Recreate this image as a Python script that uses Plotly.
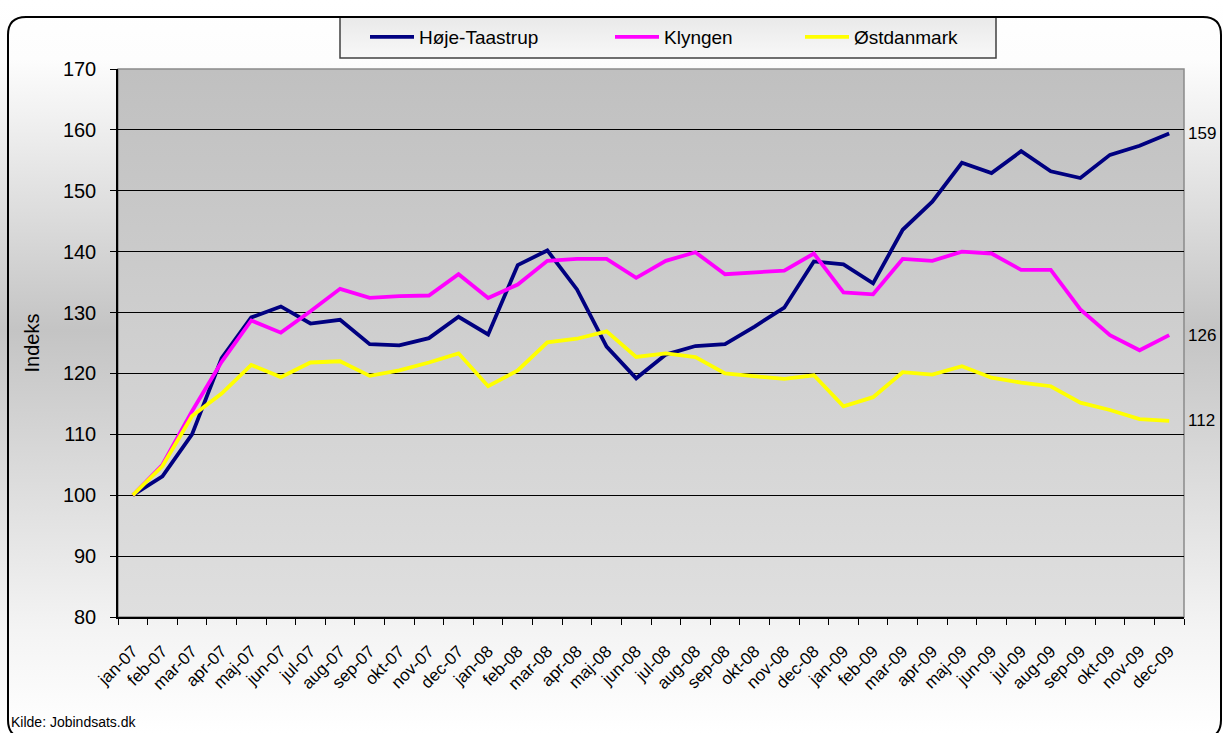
import base64
import plotly.graph_objects as go

months = ["jan-07", "feb-07", "mar-07", "apr-07", "maj-07", "jun-07", "jul-07", "aug-07", "sep-07",
          "okt-07", "nov-07", "dec-07", "jan-08", "feb-08", "mar-08", "apr-08", "maj-08", "jun-08",
          "jul-08", "aug-08", "sep-08", "okt-08", "nov-08", "dec-08", "jan-09", "feb-09", "mar-09",
          "apr-09", "maj-09", "jun-09", "jul-09", "aug-09", "sep-09", "okt-09", "nov-09", "dec-09"]

hoeje_taastrup = [100, 103.1, 110, 122.5, 129.2, 131.0, 128.2, 128.8, 124.8, 124.6, 125.8, 129.3,
                  126.4, 137.8, 140.2, 133.8, 124.4, 119.2, 123.1, 124.5, 124.8, 127.7, 130.8, 138.4,
                  137.9, 134.8, 143.6, 148.2, 154.6, 152.9, 156.5, 153.2, 152.1, 155.9, 157.4, 159.4]

klyngen = [100, 105.0, 113.8, 121.9, 128.7, 126.7, 130.2, 133.9, 132.4, 132.7, 132.8, 136.3,
           132.4, 134.6, 138.5, 138.8, 138.8, 135.7, 138.5, 139.9, 136.3, 136.6, 136.9, 139.7,
           133.3, 133.0, 138.8, 138.5, 140.0, 139.7, 137.0, 137.0, 130.5, 126.3, 123.8, 126.3]

oestdanmark = [100, 104.8, 113.0, 116.7, 121.4, 119.4, 121.8, 122.0, 119.6, 120.5, 121.8, 123.3,
               117.9, 120.5, 125.1, 125.7, 126.9, 122.7, 123.3, 122.7, 120.0, 119.6, 119.1, 119.7,
               114.6, 116.1, 120.2, 119.8, 121.2, 119.3, 118.5, 117.9, 115.2, 114.0, 112.5, 112.2]

series_names = ["Høje-Taastrup", "Klyngen", "Østdanmark"]
series_values = [hoeje_taastrup, klyngen, oestdanmark]
end_labels = ["159", "126", "112"]
y_ticks = [80, 90, 100, 110, 120, 130, 140, 150, 160, 170]

colors = ["#000080", "#FF00FF", "#FFFF00"]

W, H = 1223, 733
L, R, T, B = 118, 1184, 69, 617


def px(x):
    return (x - L) / (R - L)


def py(y):
    return (B - y) / (B - T)


def svg_uri(stops):
    st = "".join(f'<stop offset="{o}" stop-color="{c}"/>' for o, c in stops)
    svg = ('<svg xmlns="http://www.w3.org/2000/svg" width="100" height="100" preserveAspectRatio="none">'
           '<defs><linearGradient id="g" x1="0" y1="0" x2="0" y2="1">' + st +
           '</linearGradient></defs><rect width="100" height="100" fill="url(#g)"/></svg>')
    return "data:image/svg+xml;base64," + base64.b64encode(svg.encode()).decode()


font = "Arial, Liberation Sans, sans-serif"
narrow = "Liberation Sans Narrow, Arial Narrow, Arial, sans-serif"

fig = go.Figure()
legend_x = [373, 618, 808]
for i, (name, vals, col) in enumerate(zip(series_names, series_values, colors)):
    fig.add_trace(go.Scatter(
        x=months, y=vals, name=name, mode="lines", showlegend=True,
        line=dict(color=col, width=3.8),
        legend="legend" if i == 0 else f"legend{i + 1}",
    ))

legend_common = dict(orientation="h", yanchor="middle", xanchor="left",
                     bgcolor="rgba(0,0,0,0)", borderwidth=0,
                     font=dict(family=font, size=19, color="#000"), itemwidth=44)
fig.update_layout(
    showlegend=True,
    legend=dict(x=px(legend_x[0] - 8), y=py(37), **legend_common),
    legend2=dict(x=px(legend_x[1] - 8), y=py(37), **legend_common),
    legend3=dict(x=px(legend_x[2] - 8), y=py(37), **legend_common),
)

# end labels
for lab, vals in zip(end_labels, series_values):
    fig.add_annotation(x=px(1186), xref="paper", y=vals[-1], yref="y", text=lab,
                       showarrow=False, xanchor="left", yanchor="middle",
                       font=dict(family=narrow, size=17, color="#000"))

fig.add_annotation(x=px(9), xref="paper", y=py(722), yref="paper", text="Kilde: Jobindsats.dk",
                   showarrow=False, xanchor="left", yanchor="middle",
                   font=dict(family=narrow, size=14, color="#000"))

# backgrounds
fig.add_layout_image(source=svg_uri([(0, "#ffffff"), (0.08, "#fdfdfd"), (0.45, "#c4c4c4"),
                                     (0.86, "#f4f4f4"), (1, "#ffffff")]),
                     xref="paper", yref="paper", x=px(0), y=py(0), sizex=px(W) - px(0),
                     sizey=py(0) - py(H), xanchor="left", yanchor="top", sizing="stretch",
                     layer="below")
fig.add_layout_image(source=svg_uri([(0, "#c0c0c0"), (1, "#dfdfdf")]),
                     xref="paper", yref="paper", x=0, y=1, sizex=1, sizey=1,
                     xanchor="left", yanchor="top", sizing="stretch", layer="below")
# legend box fill gradient
fig.add_layout_image(source=svg_uri([(0, "#e9e9e9"), (1, "#f8f8f8")]),
                     xref="paper", yref="paper", x=px(340), y=py(17), sizex=px(996) - px(340),
                     sizey=py(17) - py(58), xanchor="left", yanchor="top", sizing="stretch",
                     layer="below")

# legend box outline
fig.add_shape(type="rect", xref="paper", yref="paper", x0=px(340), x1=px(996), y0=py(17), y1=py(58),
              line=dict(color="#404040", width=1.5), layer="above")

# outer rounded border
r = 18
x0b, x1b, y0b, y1b = 8, 1221, 17, 738
path = (f"M {px(x0b)},{py(y1b - r)} L {px(x0b)},{py(y0b + r)} "
        f"Q {px(x0b)},{py(y0b)} {px(x0b + r)},{py(y0b)} "
        f"L {px(x1b - r)},{py(y0b)} Q {px(x1b)},{py(y0b)} {px(x1b)},{py(y0b + r)} "
        f"L {px(x1b)},{py(y1b - r)} Q {px(x1b)},{py(y1b)} {px(x1b - r)},{py(y1b)} "
        f"L {px(x0b + r)},{py(y1b)} Q {px(x0b)},{py(y1b)} {px(x0b)},{py(y1b - r)} Z")
fig.add_shape(type="path", xref="paper", yref="paper", path=path,
              line=dict(color="#000", width=2), layer="above")

# plot frame (grey)
fig.add_shape(type="rect", xref="paper", yref="paper", x0=0, x1=1, y0=0, y1=1,
              line=dict(color="#8a8a8a", width=1.5), layer="below")

fig.update_layout(
    width=W, height=H,
    margin=dict(l=L, r=W - R, t=T, b=H - B),
    paper_bgcolor="rgba(0,0,0,0)", plot_bgcolor="rgba(0,0,0,0)",
    font=dict(family=font, color="#000"),
    xaxis=dict(type="category", range=[-0.5, 35.5], tickangle=-45, tickson="boundaries",
               ticks="outside", ticklen=6, tickcolor="#000", showgrid=False,
               showline=True, linecolor="#000", linewidth=1.5, zeroline=False,
               ticklabelstandoff=16,
               tickfont=dict(family=font, size=17, color="#000")),
    yaxis=dict(range=[80, 170], tickvals=y_ticks, ticks="outside", ticklen=6, tickcolor="#000",
               showline=True, linecolor="#000", linewidth=1.5, showgrid=True,
               gridcolor="#000", gridwidth=1, zeroline=False, ticklabelstandoff=10,
               tickfont=dict(family=font, size=20, color="#000"),
               title=dict(text="Indeks", font=dict(family=font, size=20, color="#000"), standoff=18)),
)

fig.write_html("out.html", config={"displayModeBar": False},
               post_script="document.body.style.margin='0';document.body.style.overflow='hidden';")
